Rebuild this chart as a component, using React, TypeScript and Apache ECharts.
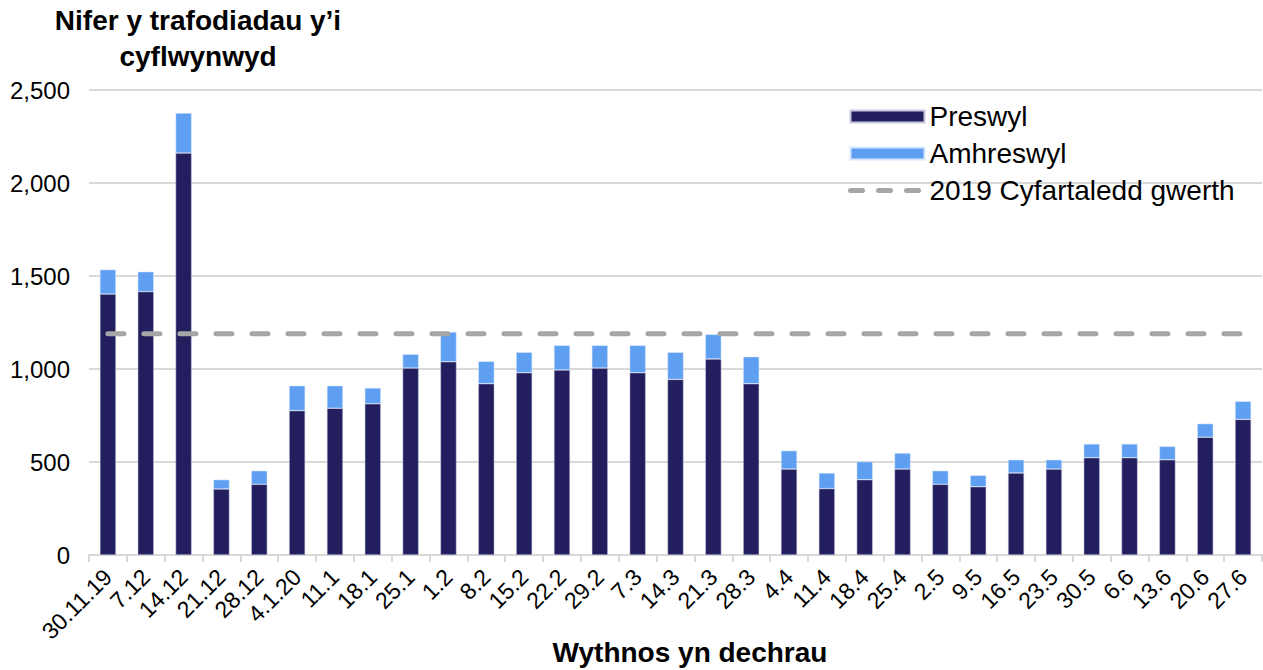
import React, { useEffect, useRef } from "react";
import * as echarts from "echarts";

const categories = [
  "30.11.19", "7.12", "14.12", "21.12", "28.12", "4.1.20", "11.1", "18.1", "25.1", "1.2",
  "8.2", "15.2", "22.2", "29.2", "7.3", "14.3", "21.3", "28.3", "4.4", "11.4",
  "18.4", "25.4", "2.5", "9.5", "16.5", "23.5", "30.5", "6.6", "13.6", "20.6", "27.6",
];

const preswyl = [
  1403, 1416, 2161, 355, 380, 776, 789, 813, 1005, 1039,
  921, 980, 995, 1005, 980, 944, 1054, 921, 462, 357,
  405, 462, 380, 367, 441, 462, 523, 523, 512, 633, 729,
];

const amhreswyl = [
  131, 107, 215, 50, 73, 134, 121, 85, 74, 160,
  120, 110, 132, 122, 147, 146, 132, 145, 99, 84,
  97, 86, 73, 61, 71, 50, 74, 74, 72, 73, 97,
];

const average2019 = 1190;
const averageLine = categories.map(() => average2019);

const yTicks = [0, 500, 1000, 1500, 2000, 2500];

const xAxisTitle = "Wythnos yn dechrau";

const FONT = "'Liberation Sans', Arial, sans-serif";

export default function App() {
  const ref = useRef<HTMLDivElement>(null);

  useEffect(() => {
    if (!ref.current) return;
    const chart = echarts.init(ref.current, undefined, { renderer: "svg" });
    chart.setOption({
      animation: false,
      backgroundColor: "#ffffff",
      textStyle: { fontFamily: FONT },
      title: {
        text: "Nifer y trafodiadau y’i\ncyflwynwyd",
        left: 198,
        top: 2,
        padding: 0,
        textAlign: "center",
        textStyle: {
          fontFamily: FONT,
          fontSize: 28,
          fontWeight: "bold",
          color: "#000",
          lineHeight: 36,
        },
      },
      graphic: [
        {
          type: "text",
          x: 690,
          y: 652,
          style: {
            text: xAxisTitle,
            align: "center",
            verticalAlign: "middle",
            fontFamily: FONT,
            fontSize: 28,
            fontWeight: "bold",
            fill: "#000",
          },
        },
      ],
      legend: {
        orient: "vertical",
        left: 843,
        top: 97,
        itemWidth: 74,
        itemHeight: 12,
        itemGap: 8,
        textStyle: {
          fontFamily: FONT,
          fontSize: 28,
          lineHeight: 29,
          color: "#000",
        },
        data: [
          { name: "Preswyl", icon: "rect" },
          { name: "Amhreswyl", icon: "rect" },
          {
            name: "2019 Cyfartaledd gwerth",
            itemStyle: { opacity: 0 },
            lineStyle: { width: 5, type: [12, 16], cap: "round" },
          },
        ],
      },
      grid: {
        left: 89,
        right: 1,
        top: 90,
        bottom: 115,
        containLabel: false,
        outerBoundsMode: "none",
      },
      xAxis: {
        type: "category",
        data: categories,
        boundaryGap: true,
        axisLine: { lineStyle: { color: "#d9d9d9", width: 2 } },
        axisTick: { show: true, alignWithLabel: false, length: 7, lineStyle: { color: "#d9d9d9", width: 2 } },
        axisLabel: {
          rotate: 45,
          interval: 0,
          fontFamily: FONT,
          fontSize: 23,
          color: "#000",
          margin: 18,
        },
      },
      yAxis: {
        type: "value",
        min: 0,
        max: 2500,
        interval: 500,
        axisLine: { show: false },
        axisTick: { show: false },
        splitLine: { lineStyle: { color: "#d9d9d9", width: 2 } },
        axisLabel: {
          fontFamily: FONT,
          fontSize: 24,
          color: "#000",
          margin: 19,
          formatter: (v: number) => (yTicks.includes(v) ? v.toLocaleString("en-GB") : ""),
        },
      },
      series: [
        {
          name: "Preswyl",
          type: "bar",
          stack: "total",
          data: preswyl,
          barWidth: 16,
          itemStyle: { color: "#231f5f", borderColor: "#c8c8e0", borderWidth: 0.5 },
        },
        {
          name: "Amhreswyl",
          type: "bar",
          stack: "total",
          data: amhreswyl,
          barWidth: 16,
          itemStyle: { color: "#5f9ff1", borderColor: "#d6e6fb", borderWidth: 0.5 },
        },
        {
          name: "2019 Cyfartaledd gwerth",
          type: "line",
          data: averageLine,
          symbol: "none",
          z: 5,
          itemStyle: { color: "#a6a6a6" },
          lineStyle: { color: "#a6a6a6", width: 5, type: [16, 20], cap: "round" },
        },
      ],
    });
    return () => chart.dispose();
  }, []);

  return (
    <div
      ref={ref}
      style={{ position: "fixed", left: 0, top: 0, width: 1263, height: 670 }}
    />
  );
}
